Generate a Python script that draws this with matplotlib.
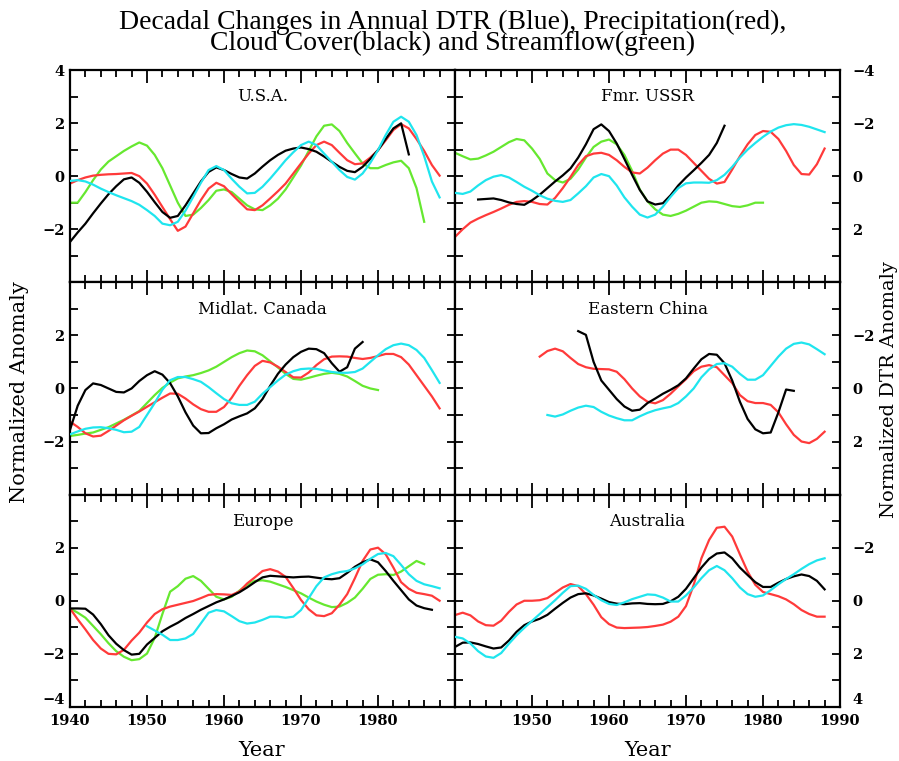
import numpy as np
import matplotlib
matplotlib.use("Agg")
import matplotlib.pyplot as plt
from matplotlib.ticker import MultipleLocator

# ---- data (annual values) ----
# cloud cover = black, precipitation = red, streamflow = green  (normalized anomaly)
# DTR = cyan (normalized, plotted on the inverted right axis)

usa_cloud_start = 1940
usa_cloud = [-2.48, -2.12, -1.79, -1.4, -1.03, -0.68, -0.38, -0.12, -0.05, -0.25,
             -0.59, -0.98, -1.35, -1.57, -1.5, -1.1, -0.65, -0.2, 0.16, 0.33,
             0.23, 0.08, -0.05, -0.09, 0.1, 0.36, 0.6, 0.8, 0.96, 1.04,
             1.08, 1.02, 0.92, 0.74, 0.54, 0.35, 0.2, 0.15, 0.35, 0.65,
             0.98, 1.4, 1.8, 1.99, 0.82]
usa_precip_start = 1940
usa_precip = [-0.28, -0.15, -0.05, 0.02, 0.05, 0.07, 0.08, 0.1, 0.12, 0.0,
              -0.28, -0.7, -1.16, -1.62, -2.06, -1.9, -1.4, -0.9, -0.47, -0.25,
              -0.38, -0.68, -0.97, -1.25, -1.28, -1.1, -0.84, -0.57, -0.28, 0.1,
              0.48, 0.85, 1.17, 1.3, 1.17, 0.88, 0.6, 0.45, 0.48, 0.7,
              0.98, 1.35, 1.74, 1.96, 1.8, 1.4, 0.95, 0.42, 0.02]
usa_dtr_start = 1940
usa_dtr = [0.18, 0.15, 0.2, 0.32, 0.47, 0.6, 0.72, 0.83, 0.94, 1.08,
           1.28, 1.5, 1.79, 1.85, 1.72, 1.3, 0.78, 0.25, -0.23, -0.38,
           -0.23, 0.1, 0.4, 0.65, 0.63, 0.4, 0.09, -0.25, -0.6, -0.9,
           -1.17, -1.3, -1.17, -0.85, -0.54, -0.23, 0.03, 0.13, -0.1, -0.5,
           -0.98, -1.55, -2.05, -2.24, -2.05, -1.55, -0.75, 0.2, 0.8]
usa_stream_start = 1940
usa_stream = [-1.0, -1.0, -0.6, -0.15, 0.25, 0.55, 0.75, 0.95, 1.12, 1.27,
              1.15, 0.8, 0.3, -0.35, -1.0, -1.5, -1.45, -1.2, -0.9, -0.55,
              -0.5, -0.6, -0.85, -1.1, -1.25, -1.28, -1.1, -0.85, -0.5, -0.05,
              0.4, 0.95, 1.5, 1.9, 1.95, 1.7, 1.25, 0.86, 0.48, 0.3,
              0.3, 0.42, 0.52, 0.58, 0.3, -0.45, -1.72]

ussr_cloud_start = 1943
ussr_cloud = [-0.88, -0.86, -0.84, -0.9, -0.99, -1.05, -1.08,
              -0.91, -0.7, -0.45, -0.2, 0.03, 0.29, 0.7, 1.2, 1.77, 1.95,
              1.7, 1.23, 0.65, 0.05, -0.52, -0.95, -1.07, -1.02, -0.72, -0.35,
              -0.05, 0.22, 0.5, 0.8, 1.25, 1.9]
ussr_precip_start = 1940
ussr_precip = [-2.29, -2.0, -1.75, -1.6, -1.47, -1.35, -1.22, -1.08, -0.97, -0.94,
               -0.97, -1.05, -1.07, -0.82, -0.45, -0.03, 0.42, 0.75, 0.85, 0.88,
               0.8, 0.6, 0.35, 0.14, 0.1, 0.32, 0.6, 0.85, 1.0, 1.0,
               0.8, 0.5, 0.2, -0.1, -0.28, -0.22, 0.25, 0.75, 1.2, 1.55,
               1.7, 1.67, 1.4, 0.95, 0.42, 0.08, 0.06, 0.45, 1.04]
ussr_dtr_start = 1940
ussr_dtr = [0.63, 0.67, 0.58, 0.35, 0.15, 0.02, -0.04, 0.05, 0.22, 0.4,
            0.55, 0.72, 0.85, 0.93, 0.97, 0.9, 0.65, 0.38, 0.05, -0.08,
            0.0, 0.35, 0.8, 1.15, 1.45, 1.56, 1.45, 1.15, 0.78, 0.45,
            0.27, 0.24, 0.24, 0.25, 0.15, -0.05, -0.35, -0.7, -1.0, -1.25,
            -1.48, -1.68, -1.83, -1.92, -1.96, -1.93, -1.86, -1.76, -1.66]
ussr_stream_start = 1940
ussr_stream = [0.88, 0.75, 0.63, 0.66, 0.78, 0.92, 1.1, 1.28, 1.4, 1.35,
               1.04, 0.65, 0.1, -0.15, -0.24, -0.1, 0.25, 0.7, 1.1, 1.3,
               1.38, 1.2, 0.8, 0.2, -0.5, -0.95, -1.25, -1.45, -1.5, -1.42,
               -1.3, -1.15, -1.0, -0.95, -0.97, -1.05, -1.13, -1.16, -1.1, -1.0,
               -1.0]

can_cloud_start = 1940
can_cloud = [-1.56, -0.65, -0.06, 0.19, 0.13, 0.0, -0.13, -0.15, 0.0, 0.28,
             0.5, 0.65, 0.52, 0.2, -0.3, -0.9, -1.4, -1.69, -1.68, -1.5,
             -1.35, -1.17, -1.05, -0.94, -0.75, -0.4, 0.1, 0.55, 0.9, 1.18,
             1.38, 1.5, 1.48, 1.33, 0.95, 0.63, 0.8, 1.5, 1.75]
can_precip_start = 1940
can_precip = [-1.25, -1.45, -1.69, -1.81, -1.78, -1.6, -1.4, -1.2, -1.03, -0.87,
              -0.69, -0.52, -0.35, -0.19, -0.2, -0.38, -0.6, -0.78, -0.88, -0.88,
              -0.7, -0.35, 0.1, 0.5, 0.85, 1.04, 0.98, 0.82, 0.62, 0.42,
              0.41, 0.6, 0.88, 1.1, 1.2, 1.21, 1.2, 1.15, 1.11, 1.15,
              1.22, 1.3, 1.3, 1.18, 0.9, 0.5, 0.1, -0.3, -0.75]
can_dtr_start = 1940
can_dtr = [1.73, 1.62, 1.52, 1.47, 1.46, 1.5, 1.56, 1.65, 1.63, 1.45,
           1.0, 0.55, 0.05, -0.31, -0.43, -0.43, -0.35, -0.25, -0.05, 0.18,
           0.4, 0.56, 0.62, 0.62, 0.5, 0.2, -0.05, -0.3, -0.52, -0.65,
           -0.73, -0.75, -0.74, -0.68, -0.62, -0.59, -0.59, -0.62, -0.75, -1.0,
           -1.25, -1.48, -1.63, -1.69, -1.63, -1.45, -1.15, -0.69, -0.21]
can_stream_start = 1940
can_stream = [-1.79, -1.75, -1.7, -1.66, -1.56, -1.46, -1.32, -1.18, -1.02, -0.85,
              -0.55, -0.25, 0.02, 0.22, 0.38, 0.45, 0.5, 0.58, 0.68, 0.82,
              1.0, 1.18, 1.33, 1.43, 1.4, 1.25, 1.02, 0.79, 0.55, 0.36,
              0.33, 0.4, 0.48, 0.55, 0.59, 0.55, 0.45, 0.28, 0.1, 0.0,
              -0.06]

chn_cloud_start = 1956
chn_cloud = [2.16, 2.02, 1.0, 0.3,
             -0.05, -0.4, -0.68, -0.84, -0.8, -0.55, -0.38, -0.2, -0.05, 0.12,
             0.38, 0.75, 1.1, 1.3, 1.27, 0.95, 0.3, -0.5, -1.15, -1.54,
             -1.69, -1.66, -0.9, -0.04, -0.09]
chn_precip_start = 1951
chn_precip = [1.2, 1.41, 1.5, 1.4, 1.15, 0.92, 0.8, 0.74, 0.73,
              0.72, 0.63, 0.35, 0.0, -0.3, -0.5, -0.56, -0.44, -0.2, 0.08,
              0.35, 0.65, 0.82, 0.88, 0.8, 0.5, 0.2, -0.25, -0.48, -0.55,
              -0.55, -0.62, -0.9, -1.35, -1.75, -2.0, -2.06, -1.9, -1.63]
chn_dtr_start = 1952
chn_dtr = [1.0, 1.06, 0.98, 0.84, 0.72, 0.65, 0.7, 0.88,
           1.02, 1.12, 1.2, 1.2, 1.05, 0.92, 0.82, 0.75, 0.69, 0.55,
           0.3, 0.0, -0.42, -0.72, -0.92, -0.95, -0.82, -0.55, -0.33, -0.33,
           -0.5, -0.85, -1.2, -1.5, -1.68, -1.73, -1.66, -1.48, -1.29]

eur_cloud_start = 1940
eur_cloud = [-0.29, -0.29, -0.3, -0.52, -0.88, -1.3, -1.62, -1.86, -2.03, -2.0,
             -1.65, -1.4, -1.15, -0.98, -0.83, -0.65, -0.5, -0.34, -0.2, -0.06,
             0.05, 0.18, 0.32, 0.5, 0.7, 0.88, 0.94, 0.92, 0.9, 0.88,
             0.9, 0.91, 0.87, 0.83, 0.81, 0.85, 1.05, 1.28, 1.45, 1.56,
             1.45, 1.12, 0.75, 0.4, 0.05, -0.18, -0.28, -0.34]
eur_precip_start = 1940
eur_precip = [-0.29, -0.7, -1.08, -1.48, -1.8, -2.0, -2.02, -1.85, -1.5, -1.2,
              -0.82, -0.5, -0.32, -0.22, -0.15, -0.08, -0.01, 0.1, 0.22, 0.25,
              0.24, 0.22, 0.35, 0.65, 0.88, 1.12, 1.19, 1.1, 0.9, 0.48,
              0.03, -0.32, -0.55, -0.58, -0.47, -0.15, 0.25, 0.85, 1.5, 1.93,
              2.0, 1.75, 1.25, 0.7, 0.45, 0.3, 0.25, 0.19, 0.0]
eur_dtr_start = 1950
eur_dtr = [0.96, 1.12, 1.28, 1.48, 1.48, 1.42, 1.25, 0.85, 0.45, 0.35,
           0.4, 0.58, 0.77, 0.86, 0.82, 0.72, 0.6, 0.6, 0.64, 0.6,
           0.35, -0.1, -0.55, -0.88, -1.0, -1.08, -1.12, -1.22, -1.37, -1.58,
           -1.76, -1.8, -1.68, -1.35, -1.0, -0.75, -0.62, -0.55, -0.47]
eur_stream_start = 1940
eur_stream = [-0.29, -0.45, -0.64, -0.95, -1.26, -1.6, -1.9, -2.11, -2.24, -2.2,
              -1.99, -1.4, -0.5, 0.34, 0.55, 0.83, 0.93, 0.75, 0.45, 0.15,
              0.05, 0.15, 0.38, 0.6, 0.75, 0.77, 0.72, 0.62, 0.52, 0.4,
              0.28, 0.12, -0.03, -0.15, -0.24, -0.22, -0.08, 0.12, 0.45, 0.82,
              0.98, 1.0, 0.97, 1.1, 1.3, 1.5, 1.38]

aus_cloud_start = 1940
aus_cloud = [-1.74, -1.58, -1.57, -1.63, -1.72, -1.8, -1.76, -1.5, -1.17, -0.92,
             -0.78, -0.68, -0.53, -0.3, -0.08, 0.12, 0.25, 0.28, 0.2, 0.08,
             -0.05, -0.11, -0.13, -0.1, -0.09, -0.12, -0.13, -0.12, -0.02, 0.15,
             0.45, 0.85, 1.25, 1.58, 1.78, 1.82, 1.6, 1.25, 0.97, 0.7,
             0.52, 0.52, 0.68, 0.82, 0.92, 0.99, 0.93, 0.75, 0.43]
aus_precip_start = 1940
aus_precip = [-0.54, -0.45, -0.55, -0.78, -0.92, -0.94, -0.75, -0.42, -0.14, 0.0,
              0.0, 0.02, 0.1, 0.3, 0.5, 0.63, 0.55, 0.25, -0.15, -0.62,
              -0.88, -1.01, -1.03, -1.02, -1.01, -0.99, -0.95, -0.9, -0.79, -0.6,
              -0.2, 0.6, 1.6, 2.29, 2.75, 2.79, 2.42, 1.75, 1.1, 0.6,
              0.33, 0.25, 0.17, 0.05, -0.13, -0.35, -0.5, -0.6, -0.6]
aus_dtr_start = 1940
aus_dtr = [1.36, 1.42, 1.61, 1.9, 2.1, 2.15, 1.97, 1.62, 1.3, 1.02,
           0.76, 0.5, 0.24, -0.02, -0.3, -0.55, -0.57, -0.45, -0.22, -0.02,
           0.12, 0.16, 0.06, -0.06, -0.15, -0.24, -0.22, -0.12, 0.03, 0.03,
           -0.2, -0.5, -0.85, -1.15, -1.31, -1.15, -0.85, -0.5, -0.25, -0.15,
           -0.2, -0.4, -0.62, -0.82, -1.0, -1.2, -1.38, -1.52, -1.6]

regions = ["U.S.A.", "Fmr. USSR", "Midlat. Canada", "Eastern China", "Europe", "Australia"]

DTR_C = "#1fe5ee"
PRE_C = "#ff3a3a"
CLD_C = "black"
STR_C = "#66e830"

# (start, values, colour) per panel; dtr handled separately on the inverted axis
panels = [
    dict(lines=[(usa_stream_start, usa_stream, STR_C), (usa_precip_start, usa_precip, PRE_C),
                (usa_cloud_start, usa_cloud, CLD_C)], dtr=(usa_dtr_start, usa_dtr)),
    dict(lines=[(ussr_stream_start, ussr_stream, STR_C), (ussr_precip_start, ussr_precip, PRE_C),
                (ussr_cloud_start, ussr_cloud, CLD_C)], dtr=(ussr_dtr_start, ussr_dtr)),
    dict(lines=[(can_stream_start, can_stream, STR_C), (can_precip_start, can_precip, PRE_C),
                (can_cloud_start, can_cloud, CLD_C)], dtr=(can_dtr_start, can_dtr)),
    dict(lines=[(chn_precip_start, chn_precip, PRE_C), (chn_cloud_start, chn_cloud, CLD_C)],
         dtr=(chn_dtr_start, chn_dtr)),
    dict(lines=[(eur_stream_start, eur_stream, STR_C), (eur_precip_start, eur_precip, PRE_C),
                (eur_cloud_start, eur_cloud, CLD_C)], dtr=(eur_dtr_start, eur_dtr)),
    dict(lines=[(aus_precip_start, aus_precip, PRE_C), (aus_cloud_start, aus_cloud, CLD_C)],
         dtr=(aus_dtr_start, aus_dtr)),
]

TICKFONT = dict(family="DejaVu Serif", weight="bold", size=10.5)
SERIF = "DejaVu Serif"
MINUS = "\u2212"

fig = plt.figure(figsize=(8.99, 7.61), dpi=100)
W, H = 899.0, 761.0
x0, xw = 70 / W, 385 / W
y_top, ph = 70 / H, 212.3 / H

ylab_sets = {  # which y values get a label, per row
    0: [4, 2, 0, -2],
    1: [2, 0, -2],
    2: [2, 0, -2, -4],
}
rylab_sets = {
    0: [-4, -2, 0, 2],
    1: [-2, 0, 2],
    2: [-2, 0, 2, 4],
}


def fmt(v):
    return (MINUS + str(abs(v))) if v < 0 else str(v)


for i, (name, p) in enumerate(zip(regions, panels)):
    row, col = divmod(i, 2)
    ax = fig.add_axes([x0 + col * xw, 1 - y_top - (row + 1) * ph, xw, ph])
    ax.set_xlim(1940, 1990)
    ax.set_ylim(-4, 4)
    for s, vals, c in p["lines"]:
        yrs = np.arange(s, s + len(vals))
        ax.plot(yrs, vals, color=c, lw=1.6)

    ax2 = ax.twinx()
    ax2.set_ylim(4, -4)
    s, vals = p["dtr"]
    ax2.plot(np.arange(s, s + len(vals)), vals, color=DTR_C, lw=1.6)

    ax.xaxis.set_major_locator(MultipleLocator(10))
    ax.xaxis.set_minor_locator(MultipleLocator(2))
    ax.yaxis.set_major_locator(MultipleLocator(2))
    ax.yaxis.set_minor_locator(MultipleLocator(1))
    ax.tick_params(which="both", direction="in", top=True, bottom=True,
                   left=True, right=True, width=1.3)
    ax.tick_params(axis="x", which="major", length=9)
    ax.tick_params(axis="x", which="minor", length=5)
    ax.tick_params(axis="y", which="both", length=5.5)
    for sp in ax.spines.values():
        sp.set_linewidth(1.6)
    for sp in ax2.spines.values():
        sp.set_visible(False)

    # y labels
    yt = [-4, -2, 0, 2, 4]
    ax.set_yticks(yt)
    if col == 0:
        labs = ax.set_yticklabels([fmt(v) if v in ylab_sets[row] else "" for v in yt], **TICKFONT)
        ax.tick_params(axis="y", pad=4)
        ax2.set_yticks([])
        if row == 2:
            labs[0].set_va("bottom")
    else:
        ax.set_yticklabels([])
        ax2.set_yticks(yt)
        labs = ax2.set_yticklabels([fmt(v) if v in rylab_sets[row] else "" for v in yt], **TICKFONT)
        ax2.tick_params(axis="y", length=0, pad=9)
        if row == 2:
            labs[-1].set_va("bottom")

    # x labels
    xt = [1940, 1950, 1960, 1970, 1980, 1990]
    ax.set_xticks(xt)
    if row == 2:
        keep = xt[:-1] if col == 0 else xt[1:]
        ax.set_xticklabels([str(v) if v in keep else "" for v in xt], **TICKFONT)
        ax.tick_params(axis="x", pad=5)
    else:
        ax.set_xticklabels([])

    ax.text(0.5, 0.873, name, transform=ax.transAxes, ha="center", va="center",
            family=SERIF, fontsize=12)

fig.text(0.503, 1 - 33 / H,
         "Decadal Changes in Annual DTR (Blue), Precipitation(red),\n"
         "Cloud Cover(black) and Streamflow(green)",
         ha="center", va="center", multialignment="center", linespacing=0.78,
         family="Liberation Serif", fontsize=20)

fig.text(20 / W, 1 - 392 / H, "Normalized Anomaly", rotation=90, ha="center", va="center",
         family=SERIF, fontsize=15)
fig.text(889 / W, 1 - 390 / H, "Normalized DTR Anomaly", rotation=90, ha="center", va="center",
         family=SERIF, fontsize=14)
fig.text(262 / W, 1 - 750 / H, "Year", ha="center", va="center", family=SERIF, fontsize=15)
fig.text(648 / W, 1 - 750 / H, "Year", ha="center", va="center", family=SERIF, fontsize=15)

fig.savefig("out.png", dpi=100)
